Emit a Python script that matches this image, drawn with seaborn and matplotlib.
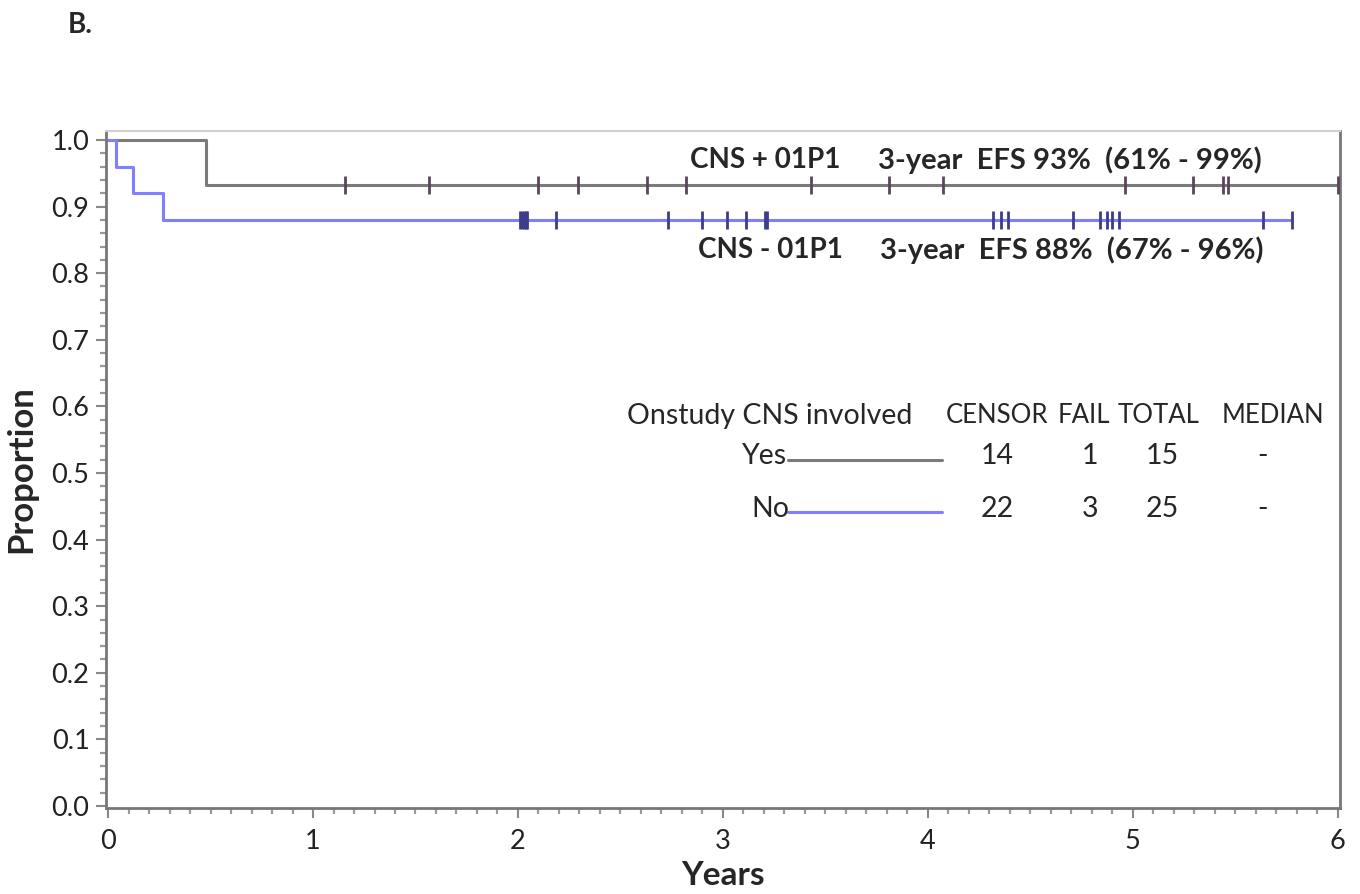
import numpy as np
import pandas as pd
import matplotlib
matplotlib.use("Agg")
import matplotlib.pyplot as plt
from matplotlib.ticker import MultipleLocator
import seaborn as sns

# ========== data ==========
groups = ["Yes", "No"]
yes_step_times = [0.0, 0.48, 6.0]
yes_step_surv = [1.0, 0.933, 0.933]
no_step_times = [0.0, 0.04, 0.12, 0.27, 5.776]
no_step_surv = [1.0, 0.96, 0.92, 0.88, 0.88]

yes_censor = [1.156, 1.566, 2.098, 2.293, 2.629, 2.820, 3.429, 3.810, 4.073,
              4.961, 5.293, 5.439, 5.463, 6.0]
no_censor = [2.010, 2.020, 2.029, 2.039, 2.044, 2.185, 2.732, 2.898, 3.020,
             3.112, 3.205, 3.215, 4.317, 4.356, 4.390, 4.707, 4.839, 4.873,
             4.898, 4.932, 5.634, 5.776]

censor_n = [14, 22]
fail_n = [1, 3]
total_n = [15, 25]
median_txt = ["-", "-"]

curve_labels = ["CNS + 01P1", "CNS - 01P1"]
efs_labels = ["3-year  EFS 93%  (61% - 99%)", "3-year  EFS 88%  (67% - 96%)"]
table_headers = ["CENSOR", "FAIL", "TOTAL", "MEDIAN"]

# ========== style ==========
sns.set_theme(style="white")
plt.rcParams['font.family'] = ['Lato', 'DejaVu Sans']

line_colors = {"Yes": "#7a7a7a", "No": "#7f7fff"}
mark_colors = {"Yes": "#5a4658", "No": "#3c3c8c"}

fig = plt.figure(figsize=(13.6, 8.94), dpi=100)
ax = fig.add_axes([0.078, 0.0962, 0.907, 0.7573])


def surv_at(times, surv, t):
    idx = np.searchsorted(times, t, side="right") - 1
    return np.asarray(surv)[idx]


curves = {"Yes": (yes_step_times, yes_step_surv, yes_censor),
          "No": (no_step_times, no_step_surv, no_censor)}

for g in groups:
    t, s, c = curves[g]
    df = pd.DataFrame({"time": t, "surv": s})
    sns.lineplot(data=df, x="time", y="surv", drawstyle="steps-post",
                 color=line_colors[g], linewidth=2.2, ax=ax, legend=False)
    cdf = pd.DataFrame({"time": c, "surv": surv_at(t, s, c)})
    sns.scatterplot(data=cdf, x="time", y="surv", marker="|", s=150,
                    linewidth=2.0, color=mark_colors[g], ax=ax, legend=False,
                    zorder=3)

ax.set_xlim(-0.01, 6.01)
ax.set_ylim(-0.003, 1.0135)
ax.xaxis.set_major_locator(MultipleLocator(1))
ax.xaxis.set_minor_locator(MultipleLocator(0.1))
ax.yaxis.set_major_locator(MultipleLocator(0.1))
ax.yaxis.set_minor_locator(MultipleLocator(0.02))
ax.xaxis.set_major_formatter(plt.FuncFormatter(lambda v, p: f"{v:.0f}"))
ax.yaxis.set_major_formatter(plt.FuncFormatter(lambda v, p: f"{v:.1f}"))
ax.tick_params(axis="both", which="major", direction="out", length=7,
               width=1.5, color="#888888", labelsize=19.5, labelcolor="#222222")
ax.tick_params(axis="x", which="major", pad=8)
ax.tick_params(axis="y", which="major", pad=5)
ax.tick_params(axis="both", which="minor", direction="out", length=4,
               width=1.6, color="#999999")
ax.tick_params(axis="both", which="both", bottom=True, left=True)

for side in ["left", "bottom", "right"]:
    ax.spines[side].set_color("#777777")
    ax.spines[side].set_linewidth(2)
ax.spines["top"].set_color("#d0d0d0")
ax.spines["top"].set_linewidth(1.5)

ax.set_xlabel("Years", fontsize=24, fontweight="bold", labelpad=5)
ax.set_ylabel("Proportion", fontsize=25, fontweight="bold", labelpad=10)

# curve annotations
ax.text(3.205, 0.97, curve_labels[0], fontsize=20, fontweight="bold", ha="center", va="center")
ax.text(3.756, 0.97, efs_labels[0], fontsize=21, fontweight="bold", ha="left", va="center")
ax.text(3.23, 0.835, curve_labels[1], fontsize=20, fontweight="bold", ha="center", va="center")
ax.text(3.766, 0.835, efs_labels[1], fontsize=21, fontweight="bold", ha="left", va="center")

# legend table
hy = 0.586
ax.text(2.53, hy, "Onstudy CNS involved", fontsize=20.5, ha="left", va="center")
for x, h in zip([4.34, 4.76, 5.125, 5.683], table_headers):
    ax.text(x, hy, h, fontsize=18.5, ha="center", va="center")
col_x = [4.337, 4.79, 5.146, 5.634]
row_y = [0.525, 0.446]
for i, g in enumerate(groups):
    y = row_y[i]
    ax.text([3.312, 3.327][i], y, g, fontsize=20.5, ha="right", va="center")
    ax.plot([3.317, 4.068], [y - 0.005, y - 0.005], color=line_colors[g], linewidth=2.2)
    for x, v in zip(col_x, [censor_n[i], fail_n[i], total_n[i], median_txt[i]]):
        ax.text(x, y, str(v), fontsize=20.5, ha="center", va="center")

fig.text(0.05, 0.972, "B.", fontsize=20, fontweight="bold", ha="left", va="center")

fig.savefig("out.png", dpi=100)
